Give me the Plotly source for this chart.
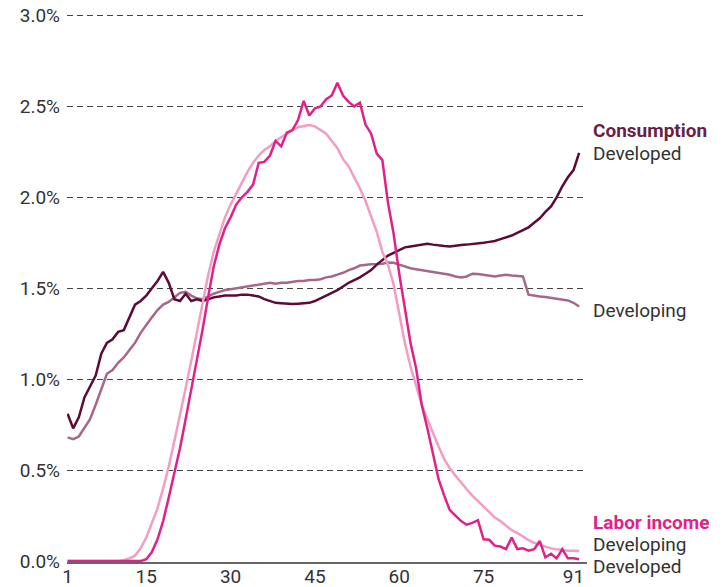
import plotly.graph_objects as go

ages = list(range(1, 93))

cons_developed = [
    0.81, 0.73, 0.79, 0.90, 0.96, 1.02, 1.14, 1.20, 1.22, 1.26,
    1.27, 1.34, 1.41, 1.43, 1.46, 1.50, 1.54, 1.59, 1.53, 1.44,
    1.43, 1.47, 1.43, 1.44, 1.43, 1.44, 1.45, 1.455, 1.46, 1.46,
    1.46, 1.465, 1.465, 1.46, 1.455, 1.44, 1.43, 1.42, 1.418, 1.415,
    1.413, 1.415, 1.418, 1.42, 1.43, 1.445, 1.46, 1.475, 1.49, 1.51,
    1.53, 1.545, 1.56, 1.58, 1.60, 1.63, 1.655, 1.68, 1.695, 1.71,
    1.725, 1.73, 1.735, 1.74, 1.745, 1.74, 1.735, 1.732, 1.73, 1.735,
    1.738, 1.74, 1.742, 1.745, 1.75, 1.755, 1.76, 1.77, 1.78, 1.79,
    1.805, 1.82, 1.835, 1.86, 1.885, 1.92, 1.95, 2.00, 2.06, 2.11,
    2.15, 2.245,
]

cons_developing = [
    0.68, 0.67, 0.685, 0.73, 0.78, 0.86, 0.94, 1.03, 1.05, 1.09,
    1.12, 1.16, 1.20, 1.255, 1.30, 1.34, 1.38, 1.41, 1.425, 1.45,
    1.475, 1.48, 1.46, 1.445, 1.44, 1.455, 1.47, 1.48, 1.49, 1.495,
    1.50, 1.505, 1.51, 1.515, 1.52, 1.525, 1.53, 1.525, 1.53, 1.53,
    1.535, 1.54, 1.54, 1.545, 1.545, 1.55, 1.56, 1.565, 1.575, 1.585,
    1.60, 1.61, 1.625, 1.63, 1.632, 1.633, 1.635, 1.642, 1.64, 1.63,
    1.62, 1.61, 1.605, 1.60, 1.595, 1.59, 1.585, 1.58, 1.574, 1.565,
    1.56, 1.565, 1.58, 1.578, 1.575, 1.57, 1.565, 1.57, 1.574, 1.57,
    1.568, 1.565, 1.465, 1.458, 1.455, 1.452, 1.448, 1.445, 1.44, 1.433,
    1.42, 1.40,
]

labor_developing = [
    0.0, 0.0, 0.0, 0.0, 0.0, 0.0, 0.0, 0.0, 0.0, 0.0,
    0.005, 0.015, 0.03, 0.07, 0.13, 0.21, 0.29, 0.40, 0.52, 0.66,
    0.80, 0.95, 1.10, 1.26, 1.42, 1.57, 1.70, 1.80, 1.89, 1.96,
    2.02, 2.08, 2.14, 2.19, 2.23, 2.26, 2.28, 2.31, 2.33, 2.35,
    2.37, 2.385, 2.39, 2.397, 2.39, 2.37, 2.35, 2.31, 2.27, 2.21,
    2.17, 2.11, 2.05, 1.98, 1.90, 1.81, 1.70, 1.63, 1.52, 1.36,
    1.20, 1.07, 0.97, 0.86, 0.78, 0.70, 0.63, 0.56, 0.51, 0.47,
    0.43, 0.395, 0.36, 0.33, 0.295, 0.27, 0.24, 0.22, 0.195, 0.17,
    0.155, 0.135, 0.115, 0.10, 0.09, 0.08, 0.07, 0.065, 0.06, 0.057,
    0.057, 0.057,
]

labor_developed = [
    0.0, 0.0, 0.0, 0.0, 0.0, 0.0, 0.0, 0.0, 0.0, 0.0,
    0.0, 0.0, 0.0, 0.0, 0.01, 0.05, 0.12, 0.22, 0.35, 0.48,
    0.62, 0.78, 0.94, 1.10, 1.27, 1.45, 1.62, 1.74, 1.83, 1.89,
    1.96, 2.00, 2.03, 2.07, 2.19, 2.195, 2.23, 2.31, 2.28, 2.355,
    2.37, 2.425, 2.53, 2.45, 2.49, 2.50, 2.54, 2.56, 2.63, 2.56,
    2.525, 2.50, 2.52, 2.40, 2.35, 2.24, 2.205, 1.97, 1.80, 1.58,
    1.40, 1.20, 1.06, 0.86, 0.73, 0.58, 0.45, 0.36, 0.28, 0.25,
    0.22, 0.20, 0.21, 0.225, 0.12, 0.117, 0.085, 0.08, 0.066, 0.13,
    0.066, 0.07, 0.057, 0.065, 0.11, 0.02, 0.04, 0.015, 0.066, 0.015,
    0.015, 0.01,
]

x_ticks = [1, 15, 30, 45, 60, 75, 91]
y_ticks = [0, 0.5, 1.0, 1.5, 2.0, 2.5, 3.0]
y_labels = ['0.0%', '0.5%', '1.0%', '1.5%', '2.0%', '2.5%', '3.0%']

FONT = 'Roboto'
TXT = '#333333'
MAROON = '#5c0b37'
MAUVE = '#a6678a'
PINK = '#f29ec4'
MAGENTA = '#e0218a'

fig = go.Figure()

series = [
    (cons_developing, MAUVE, 'Consumption, developing'),
    (cons_developed, MAROON, 'Consumption, developed'),
    (labor_developing, PINK, 'Labor income, developing'),
    (labor_developed, MAGENTA, 'Labor income, developed'),
]
for vals, col, name in series:
    fig.add_trace(go.Scatter(
        x=ages, y=vals, mode='lines', name=name,
        line=dict(color=col, width=2.5),
    ))

# (text, y value, pixel nudge, colour) for the end labels on the right
labels = [
    ('<b>Consumption</b>', 2.37, 0, '#6b1f45'),
    ('Developed', 2.24, 0, TXT),
    ('Developing', 1.377, 0, TXT),
    ('<b>Labor income</b>', 0.214, 0, MAGENTA),
    ('Developing', 0.09, 0, TXT),
    ('Developed', 0.0, -5, TXT),
]
for text, yv, nudge, col in labels:
    fig.add_annotation(
        xref='paper', yref='y', x=1, y=yv, xshift=4, yshift=nudge,
        xanchor='left', yanchor='middle', text=text, showarrow=False,
        font=dict(family=FONT, size=19, color=col),
    )

fig.update_layout(
    width=725, height=587,
    margin=dict(l=67, r=138, t=10, b=25),
    plot_bgcolor='white', paper_bgcolor='white',
    showlegend=False,
    font=dict(family=FONT, size=19, color=TXT),
    xaxis=dict(
        range=[0.9, 93.4], tickvals=x_ticks, showgrid=False,
        zeroline=False, showline=True, linecolor='#666666', linewidth=1.5,
        ticks='', ticklabelstandoff=-4, automargin=False,
        ticklabeloverflow='allow',
    ),
    yaxis=dict(
        range=[-0.005, 3.03], tickvals=y_ticks, ticktext=y_labels,
        showgrid=True, gridcolor='#444444', griddash='6px,4px', gridwidth=1,
        zeroline=False, ticks='', ticklabelstandoff=6, automargin=False,
        ticklabeloverflow='allow',
    ),
)

# drop the default 8px body margin so the figure sits at the page corner
fig.write_html('out.html', config={'displayModeBar': False},
               post_script="document.body.style.margin='0';")
